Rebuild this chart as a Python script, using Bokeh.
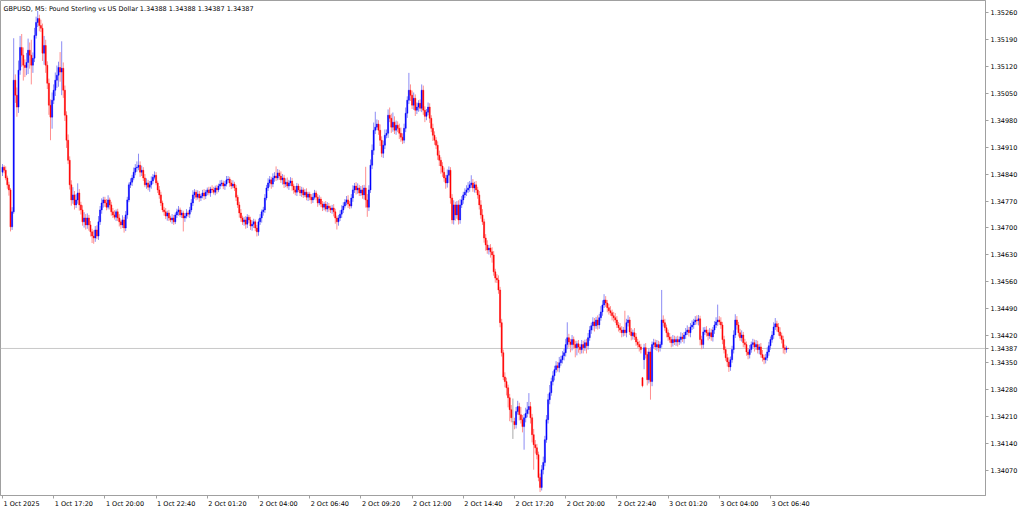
from bokeh.plotting import figure
from bokeh.models import (Range1d, LinearAxis, FixedTicker, CustomJSTickFormatter,
                          PrintfTickFormatter, Label, Span, ColumnDataSource)
from bokeh.embed import file_html
from bokeh.resources import INLINE

symbol = "GBPUSD"
timeframe = "M5"
description = "Pound Sterling vs US Dollar"

# ---- M5 candles, 1 Oct 2025 14:40 -> 3 Oct 2025 07:35 ----
open_prices = [
    1.34845,1.34858,1.34850,1.34830,1.34812,1.34799,1.34703,1.34742,1.35084,1.35045,1.35014,1.35110,1.35169,1.35149,1.35123,1.35117,1.35130,1.35162,1.35149,1.35123,1.35141,1.35200,1.35234,1.35244,1.35226,1.35219,1.35154,1.35174,1.35123,1.35076,1.35019,1.34988,
    1.35032,1.35058,1.35084,1.35097,1.35117,1.35105,1.35115,1.35058,1.34993,1.34928,1.34876,1.34812,1.34773,1.34786,1.34760,1.34773,1.34791,1.34760,1.34747,1.34716,1.34726,1.34708,1.34726,1.34708,1.34690,1.34679,1.34674,1.34695,1.34679,1.34716,1.34747,1.34765,
    1.34773,1.34765,1.34754,1.34773,1.34760,1.34742,1.34734,1.34728,1.34742,1.34726,1.34716,1.34708,1.34721,1.34700,1.34734,1.34773,1.34812,1.34819,1.34830,1.34845,1.34856,1.34858,1.34863,1.34845,1.34850,1.34830,1.34812,1.34817,1.34806,1.34812,1.34822,1.34832,
    1.34837,1.34817,1.34799,1.34786,1.34765,1.34747,1.34742,1.34731,1.34739,1.34726,1.34721,1.34726,1.34716,1.34734,1.34742,1.34747,1.34734,1.34739,1.34726,1.34731,1.34739,1.34736,1.34747,1.34765,1.34786,1.34793,1.34780,1.34788,1.34778,1.34783,1.34791,1.34783,
    1.34793,1.34799,1.34791,1.34801,1.34799,1.34793,1.34804,1.34799,1.34809,1.34814,1.34817,1.34809,1.34814,1.34825,1.34827,1.34817,1.34809,1.34814,1.34804,1.34780,1.34760,1.34739,1.34726,1.34716,1.34721,1.34710,1.34728,1.34721,1.34705,1.34710,1.34716,1.34700,
    1.34690,1.34716,1.34726,1.34742,1.34747,1.34778,1.34804,1.34817,1.34825,1.34814,1.34830,1.34835,1.34830,1.34843,1.34835,1.34825,1.34830,1.34814,1.34819,1.34809,1.34817,1.34822,1.34809,1.34799,1.34793,1.34809,1.34799,1.34791,1.34799,1.34786,1.34793,1.34780,
    1.34788,1.34780,1.34773,1.34780,1.34791,1.34780,1.34765,1.34775,1.34762,1.34754,1.34762,1.34749,1.34757,1.34752,1.34747,1.34752,1.34742,1.34726,1.34716,1.34726,1.34736,1.34747,1.34757,1.34767,1.34773,1.34762,1.34757,1.34778,1.34799,1.34809,1.34799,1.34804,
    1.34791,1.34799,1.34786,1.34804,1.34773,1.34754,1.34799,1.34863,1.34902,1.34954,1.34962,1.34970,1.34954,1.34928,1.34894,1.34915,1.34941,1.34946,1.34993,1.34985,1.34962,1.34975,1.34954,1.34967,1.34959,1.34946,1.34936,1.34928,1.34959,1.34998,1.35032,1.35058,
    1.35045,1.35019,1.35037,1.35006,1.35014,1.35024,1.35011,1.35058,1.35006,1.34990,1.35001,1.35014,1.34985,1.34959,1.34941,1.34928,1.34915,1.34889,1.34876,1.34861,1.34845,1.34830,1.34817,1.34837,1.34850,1.34778,1.34721,1.34760,1.34734,1.34760,1.34721,1.34760,
    1.34773,1.34786,1.34793,1.34799,1.34804,1.34812,1.34817,1.34804,1.34812,1.34799,1.34786,1.34760,1.34734,1.34716,1.34674,1.34656,1.34643,1.34648,1.34638,1.34630,1.34586,1.34570,1.34565,1.34539,1.34454,1.34376,1.34313,1.34301,1.34285,1.34259,1.34228,1.34197,
    1.34197,1.34189,1.34223,1.34236,1.34215,1.34202,1.34184,1.34207,1.34218,1.34228,1.34236,1.34207,1.34163,1.34137,1.34129,1.34111,1.34052,1.34026,1.34072,1.34091,1.34150,1.34202,1.34254,1.34272,1.34301,1.34316,1.34332,1.34342,1.34337,1.34350,1.34358,1.34368,
    1.34376,1.34397,1.34415,1.34404,1.34397,1.34410,1.34397,1.34389,1.34399,1.34391,1.34384,1.34397,1.34389,1.34402,1.34394,1.34415,1.34435,1.34446,1.34456,1.34446,1.34461,1.34448,1.34467,1.34482,1.34500,1.34513,1.34505,1.34493,1.34485,1.34480,1.34472,1.34467,
    1.34461,1.34448,1.34441,1.34435,1.34428,1.34435,1.34428,1.34454,1.34461,1.34430,1.34420,1.34428,1.34417,1.34404,1.34397,1.34391,1.34311,1.34358,1.34389,1.34371,1.34306,1.34378,1.34301,1.34397,1.34402,1.34391,1.34397,1.34389,1.34397,1.34461,1.34454,1.34441,
    1.34428,1.34417,1.34410,1.34402,1.34410,1.34404,1.34410,1.34404,1.34410,1.34417,1.34412,1.34422,1.34430,1.34435,1.34428,1.34443,1.34448,1.34456,1.34461,1.34459,1.34464,1.34410,1.34397,1.34430,1.34435,1.34428,1.34420,1.34428,1.34417,1.34435,1.34448,1.34456,
    1.34461,1.34456,1.34448,1.34410,1.34384,1.34363,1.34352,1.34339,1.34358,1.34384,1.34422,1.34461,1.34448,1.34428,1.34415,1.34422,1.34402,1.34397,1.34378,1.34371,1.34384,1.34397,1.34402,1.34391,1.34397,1.34384,1.34391,1.34371,1.34363,1.34358,1.34363,1.34378,
    1.34394,1.34410,1.34422,1.34443,1.34451,1.34443,1.34430,1.34420,1.34410,1.34389,1.34384,1.34388,
]

close_prices = [
    1.34858,1.34850,1.34830,1.34812,1.34799,1.34703,1.34742,1.35084,1.35045,1.35014,1.35110,1.35169,1.35149,1.35123,1.35117,1.35130,1.35162,1.35149,1.35123,1.35141,1.35200,1.35234,1.35244,1.35226,1.35219,1.35154,1.35174,1.35123,1.35076,1.35019,1.34988,1.35032,
    1.35058,1.35084,1.35097,1.35117,1.35105,1.35115,1.35058,1.34993,1.34928,1.34876,1.34812,1.34773,1.34786,1.34760,1.34773,1.34791,1.34760,1.34747,1.34716,1.34726,1.34708,1.34726,1.34708,1.34690,1.34679,1.34674,1.34695,1.34679,1.34716,1.34747,1.34765,1.34773,
    1.34765,1.34754,1.34773,1.34760,1.34742,1.34734,1.34728,1.34742,1.34726,1.34716,1.34708,1.34721,1.34700,1.34734,1.34773,1.34812,1.34819,1.34830,1.34845,1.34856,1.34858,1.34863,1.34845,1.34850,1.34830,1.34812,1.34817,1.34806,1.34812,1.34822,1.34832,1.34837,
    1.34817,1.34799,1.34786,1.34765,1.34747,1.34742,1.34731,1.34739,1.34726,1.34721,1.34726,1.34716,1.34734,1.34742,1.34747,1.34734,1.34739,1.34726,1.34731,1.34739,1.34736,1.34747,1.34765,1.34786,1.34793,1.34780,1.34788,1.34778,1.34783,1.34791,1.34783,1.34793,
    1.34799,1.34791,1.34801,1.34799,1.34793,1.34804,1.34799,1.34809,1.34814,1.34817,1.34809,1.34814,1.34825,1.34827,1.34817,1.34809,1.34814,1.34804,1.34780,1.34760,1.34739,1.34726,1.34716,1.34721,1.34710,1.34728,1.34721,1.34705,1.34710,1.34716,1.34700,1.34690,
    1.34716,1.34726,1.34742,1.34747,1.34778,1.34804,1.34817,1.34825,1.34814,1.34830,1.34835,1.34830,1.34843,1.34835,1.34825,1.34830,1.34814,1.34819,1.34809,1.34817,1.34822,1.34809,1.34799,1.34793,1.34809,1.34799,1.34791,1.34799,1.34786,1.34793,1.34780,1.34788,
    1.34780,1.34773,1.34780,1.34791,1.34780,1.34765,1.34775,1.34762,1.34754,1.34762,1.34749,1.34757,1.34752,1.34747,1.34752,1.34742,1.34726,1.34716,1.34726,1.34736,1.34747,1.34757,1.34767,1.34773,1.34762,1.34757,1.34778,1.34799,1.34809,1.34799,1.34804,1.34791,
    1.34799,1.34786,1.34804,1.34773,1.34754,1.34799,1.34863,1.34902,1.34954,1.34962,1.34970,1.34954,1.34928,1.34894,1.34915,1.34941,1.34946,1.34993,1.34985,1.34962,1.34975,1.34954,1.34967,1.34959,1.34946,1.34936,1.34928,1.34959,1.34998,1.35032,1.35058,1.35045,
    1.35019,1.35037,1.35006,1.35014,1.35024,1.35011,1.35058,1.35006,1.34990,1.35001,1.35014,1.34985,1.34959,1.34941,1.34928,1.34915,1.34889,1.34876,1.34861,1.34845,1.34830,1.34817,1.34837,1.34850,1.34778,1.34721,1.34760,1.34734,1.34760,1.34721,1.34760,1.34773,
    1.34786,1.34793,1.34799,1.34804,1.34812,1.34817,1.34804,1.34812,1.34799,1.34786,1.34760,1.34734,1.34716,1.34674,1.34656,1.34643,1.34648,1.34638,1.34630,1.34586,1.34570,1.34565,1.34539,1.34454,1.34376,1.34313,1.34301,1.34285,1.34259,1.34228,1.34207,1.34197,
    1.34189,1.34223,1.34236,1.34215,1.34202,1.34184,1.34207,1.34218,1.34228,1.34236,1.34207,1.34163,1.34137,1.34129,1.34111,1.34052,1.34026,1.34072,1.34091,1.34150,1.34202,1.34254,1.34272,1.34301,1.34316,1.34332,1.34342,1.34337,1.34350,1.34358,1.34368,1.34376,
    1.34397,1.34415,1.34404,1.34397,1.34410,1.34397,1.34389,1.34399,1.34391,1.34384,1.34397,1.34389,1.34402,1.34394,1.34415,1.34435,1.34446,1.34456,1.34446,1.34461,1.34448,1.34467,1.34482,1.34500,1.34513,1.34505,1.34493,1.34485,1.34480,1.34472,1.34467,1.34461,
    1.34448,1.34441,1.34435,1.34428,1.34435,1.34428,1.34454,1.34461,1.34430,1.34420,1.34428,1.34417,1.34404,1.34397,1.34391,1.34384,1.34290,1.34389,1.34371,1.34306,1.34378,1.34301,1.34397,1.34402,1.34391,1.34397,1.34389,1.34397,1.34461,1.34454,1.34441,1.34428,
    1.34417,1.34410,1.34402,1.34410,1.34404,1.34410,1.34404,1.34410,1.34417,1.34412,1.34422,1.34430,1.34435,1.34428,1.34443,1.34448,1.34456,1.34461,1.34459,1.34464,1.34410,1.34397,1.34430,1.34435,1.34428,1.34420,1.34428,1.34417,1.34435,1.34448,1.34456,1.34461,
    1.34456,1.34448,1.34410,1.34384,1.34363,1.34352,1.34339,1.34358,1.34384,1.34422,1.34461,1.34448,1.34428,1.34415,1.34422,1.34402,1.34397,1.34378,1.34371,1.34384,1.34397,1.34402,1.34391,1.34397,1.34384,1.34391,1.34371,1.34363,1.34358,1.34363,1.34378,1.34394,
    1.34410,1.34422,1.34443,1.34451,1.34443,1.34430,1.34420,1.34410,1.34389,1.34384,1.34388,1.34387,
]

# shadow lengths above the body / below the body, in points (0.00001)
upper_shadow_points = [
    8,5,10,6,8,5,12,109,15,20,25,30,35,20,15,25,30,20,40,15,20,15,20,10,15,12,25,15,10,12,15,20,
    15,20,25,15,40,70,15,12,10,15,10,12,20,10,15,25,10,8,12,15,10,12,8,10,8,15,10,12,15,10,12,8,
    8,10,12,6,8,10,12,6,8,10,6,12,8,10,8,6,10,8,12,10,15,30,10,12,8,10,12,8,10,12,8,10,
    8,6,10,8,6,8,10,6,8,6,10,8,6,8,10,6,8,6,8,10,6,8,10,12,8,6,10,8,6,8,10,6,
    6,8,6,10,8,6,8,6,10,8,6,8,10,8,6,8,10,6,8,6,8,10,6,8,10,8,6,8,10,8,6,8,
    8,10,6,8,10,8,12,10,8,12,10,25,10,8,12,10,8,10,12,8,10,8,6,10,8,6,10,8,6,8,10,6,
    6,8,10,8,6,8,10,6,8,6,8,10,8,6,8,10,8,6,8,10,12,10,8,10,12,8,10,12,8,10,12,8,
    10,12,8,55,15,12,15,15,20,40,12,10,15,10,12,15,10,15,20,12,25,15,12,10,12,15,10,12,15,10,45,15,
    12,15,10,12,8,10,15,12,10,8,12,10,8,12,10,8,10,12,8,10,12,8,15,10,8,10,12,8,10,12,15,10,
    8,10,12,15,10,20,10,8,10,8,10,12,15,8,10,12,8,10,12,10,8,10,12,8,10,8,12,10,8,10,12,60,
    10,12,15,10,20,12,10,15,20,35,12,10,15,12,10,8,10,12,15,10,12,15,20,10,12,10,12,10,15,10,12,10,
    15,40,10,8,12,8,10,8,10,8,12,10,8,10,12,10,8,12,10,8,12,10,15,12,15,10,8,10,12,8,10,12,
    10,8,12,10,8,50,10,12,8,10,8,12,10,8,10,8,2,10,12,8,10,12,8,10,8,12,10,8,78,12,10,8,
    8,10,8,12,10,8,10,8,12,10,8,10,12,8,10,12,8,10,12,10,8,10,12,8,10,8,12,10,8,10,12,40,
    10,12,8,10,8,10,12,8,10,12,15,10,8,10,12,8,10,8,10,12,8,10,8,12,10,8,10,12,8,10,12,10,
    8,10,12,15,8,10,12,8,10,8,6,0,
]
lower_shadow_points = [
    10,8,6,10,15,12,8,5,20,25,15,12,30,40,25,20,30,35,50,20,10,8,12,15,10,20,30,20,15,25,60,30,
    10,15,20,30,25,60,20,15,20,10,12,15,10,12,8,10,15,12,10,15,12,10,15,12,18,15,10,8,10,8,10,12,
    10,8,6,12,10,8,6,10,8,12,10,8,12,8,10,6,8,10,6,8,10,8,12,10,8,6,10,8,12,10,8,6,
    6,8,10,8,6,10,8,12,8,6,10,8,6,8,10,6,8,35,10,6,8,10,6,8,10,8,6,10,8,6,10,8,
    8,6,10,8,6,8,10,6,8,6,8,10,6,8,10,8,6,8,10,8,12,10,8,10,12,10,8,10,12,10,8,12,
    10,8,12,10,8,6,8,10,12,8,10,8,6,10,8,12,10,8,6,10,8,12,10,8,10,6,8,10,8,6,8,10,
    8,10,8,6,8,10,6,8,10,8,6,8,10,8,10,12,15,20,10,8,10,8,6,8,10,8,6,10,8,12,10,8,
    8,10,12,20,25,10,8,10,12,10,8,12,15,10,12,10,8,12,10,15,12,10,12,10,15,12,10,8,10,12,10,15,
    10,12,15,10,12,8,10,12,15,10,8,12,10,15,12,10,12,15,20,12,10,15,12,20,15,10,12,15,10,12,10,8,
    10,8,10,8,10,8,10,12,8,10,12,10,8,12,15,10,12,15,20,10,12,8,10,12,10,8,15,20,25,30,12,45,
    12,10,8,15,10,15,60,12,10,12,15,20,65,15,12,10,12,8,12,10,8,10,12,8,10,12,8,10,12,8,10,12,
    10,12,15,20,15,12,25,20,15,12,10,15,8,20,10,8,10,12,15,8,12,10,8,10,8,10,12,10,8,12,10,8,
    8,10,8,12,10,8,12,10,8,12,10,8,10,8,12,10,4,25,10,15,10,47,12,10,8,10,12,10,8,10,8,12,
    10,8,12,10,8,10,12,8,10,8,12,10,8,10,12,8,10,8,10,12,15,12,10,8,10,12,8,10,12,10,8,10,
    8,10,12,10,8,12,13,10,8,10,8,12,10,8,10,12,8,10,12,10,8,10,12,8,10,12,8,10,12,10,8,10,
    10,8,10,8,12,10,8,10,15,12,8,0,
]

price_ticks = [1.34070, 1.34140, 1.34210, 1.34280, 1.34350, 1.34420, 1.34490, 1.34560, 1.34630,
               1.34700, 1.34770, 1.34840, 1.34910, 1.34980, 1.35050, 1.35120, 1.35190, 1.35260]

time_labels = ["1 Oct 2025", "1 Oct 17:20", "1 Oct 20:00", "1 Oct 22:40", "2 Oct 01:20",
               "2 Oct 04:00", "2 Oct 06:40", "2 Oct 09:20", "2 Oct 12:00", "2 Oct 14:40",
               "2 Oct 17:20", "2 Oct 20:00", "2 Oct 22:40", "3 Oct 01:20", "3 Oct 04:00",
               "3 Oct 06:40"]
bars_per_time_label = 32   # 160 minutes of M5 bars between time labels

# ---- derived columns ----
n = min(len(open_prices), len(close_prices), len(upper_shadow_points), len(lower_shadow_points))
xs = list(range(n))
opens = open_prices[:n]
closes = close_prices[:n]
highs = [max(o, c) + u * 1e-5 for o, c, u in zip(opens, closes, upper_shadow_points)]
lows = [min(o, c) - d * 1e-5 for o, c, d in zip(opens, closes, lower_shadow_points)]

BULL, BEAR, DOJI = "#0000ff", "#ff0000", "#909090"
BULL_W, BEAR_W, DOJI_W = "#8c8cf4", "#ff8f8f", "#a8a8a8"
body_col, wick_col, tops, bots = [], [], [], []
for o, c in zip(opens, closes):
    if abs(c - o) < 1e-9:
        body_col.append(DOJI); wick_col.append(DOJI_W)
    elif c > o:
        body_col.append(BULL); wick_col.append(BULL_W)
    else:
        body_col.append(BEAR); wick_col.append(BEAR_W)
    tops.append(max(o, c)); bots.append(min(o, c))

src = ColumnDataSource(dict(x=xs, high=highs, low=lows, top=tops, bottom=bots,
                            body=body_col, wick=wick_col))

FONT = "DejaVu Sans"
FS = "6.5px"
FS_PX = 6.5
AXIS_GREY = "#a0a0a0"

W, H = 1022, 510
x0, x1 = -1.25, 614.4
y0, y1 = 1.34005, 1.35291

p = figure(width=W, height=H, output_backend="svg", toolbar_location=None,
           x_range=Range1d(x0, x1), y_range=Range1d(y0, y1),
           x_axis_location=None, y_axis_location=None,
           min_border_left=0, min_border_top=0, min_border_right=37, min_border_bottom=14,
           background_fill_color="white", border_fill_color="white",
           outline_line_color=AXIS_GREY, outline_line_width=1)
p.grid.visible = False

# current price line (behind candles)
last_close = closes[-1]
p.add_layout(Span(location=last_close, dimension="width", line_color="#c8c8c8",
                  line_width=1, level="underlay"))

p.segment(x0="x", y0="low", x1="x", y1="high", source=src, line_color="wick", line_width=1)
p.vbar(x="x", width=0.72, top="top", bottom="bottom", source=src,
       fill_color="body", line_color="body", line_width=0.4)

# right price axis (plus the current price)
yaxis = LinearAxis(ticker=FixedTicker(ticks=price_ticks + [last_close], minor_ticks=[]),
                   formatter=PrintfTickFormatter(format="%.5f"))
yaxis.axis_line_color = AXIS_GREY
yaxis.major_tick_line_color = AXIS_GREY
yaxis.major_tick_out = 3
yaxis.major_tick_in = 0
yaxis.minor_tick_out = 0
yaxis.minor_tick_in = 0
yaxis.major_label_standoff = 2
yaxis.major_label_text_font = FONT
yaxis.major_label_text_font_size = FS
yaxis.major_label_text_color = "#000000"
p.add_layout(yaxis, "right")

# bottom: tick marks at each label time ...
tick_bars = [k * bars_per_time_label for k in range(len(time_labels))]
xaxis = LinearAxis(ticker=FixedTicker(ticks=tick_bars, minor_ticks=[]),
                   formatter=CustomJSTickFormatter(code="return ''"))
xaxis.axis_line_color = AXIS_GREY
xaxis.major_tick_line_color = AXIS_GREY
xaxis.major_tick_out = 3
xaxis.major_tick_in = 0
xaxis.minor_tick_out = 0
xaxis.minor_tick_in = 0
xaxis.major_label_standoff = 0
xaxis.major_label_text_font_size = "1px"
p.add_layout(xaxis, "below")

# ... and the time texts, left-aligned just right of each tick (MetaTrader style)
CHAR_EM = {" ": 0.318, ":": 0.337, "O": 0.787, "c": 0.550, "t": 0.392}
px_per_bar = (W - 37) / (x1 - x0)
def text_width_px(s):
    return sum(CHAR_EM.get(ch, 0.636) for ch in s) * FS_PX
label_centers = [bx + (text_width_px(t) / 2 + 1) / px_per_bar for bx, t in zip(tick_bars, time_labels)]
taxis = LinearAxis(ticker=FixedTicker(ticks=label_centers, minor_ticks=[]),
                   formatter=CustomJSTickFormatter(args=dict(names=time_labels),
                                                   code="return names[index] ?? ''"))
taxis.axis_line_color = None
taxis.major_tick_line_color = None
taxis.major_tick_out = 0
taxis.major_tick_in = 0
taxis.minor_tick_out = 0
taxis.minor_tick_in = 0
taxis.major_label_standoff = 1
taxis.major_label_text_font = FONT
taxis.major_label_text_font_size = FS
taxis.major_label_text_color = "#000000"
p.add_layout(taxis, "below")

# title line with last bar OHLC
title = "%s, %s:  %s  %.5f %.5f %.5f %.5f" % (symbol, timeframe, description,
                                              opens[-1], highs[-1], lows[-1], closes[-1])
p.add_layout(Label(x=x0, y=y1, x_offset=3, y_offset=-4, text=title,
                   text_align="left", text_baseline="top",
                   text_font=FONT, text_font_size=FS, text_color="#000000"))

open("out.html", "w").write(file_html(p, INLINE))
